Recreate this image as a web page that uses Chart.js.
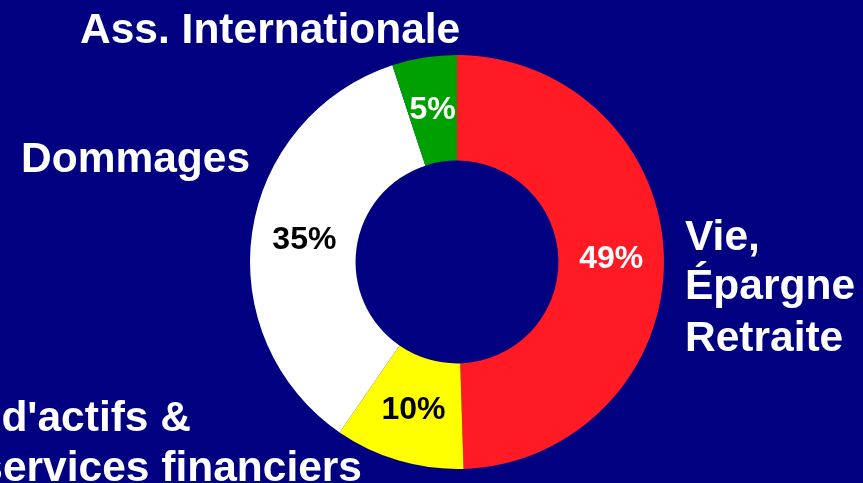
<!DOCTYPE html>
<html>
<head>
	<meta charset="UTF-8">
	<title>Répartition</title>
	<script src="https://cdn.jsdelivr.net/npm/chart.js"></script>
	<style type="text/css">
		html, body {
			margin: 0;
			padding: 0;
			background: #000080;
			overflow: hidden;
		}
		.chart-container {
			position: relative;
			width: 863px;
			height: 483px;
		}
	</style>
</head>
<body>
	<div class="chart-container">
		<canvas id="chart"></canvas>
	</div>
	<script type="text/javascript">
// data (clockwise from 12 o'clock)
var categories = ["Vie, Épargne Retraite", "Gestion d'actifs & services financiers", "Dommages", "Ass. Internationale"];
var shares = [49, 10, 35, 5];
var sliceColors = ["#FF1A24", "#FFFF00", "#FFFFFF", "#00A000"];
var pctColors = ["#FFFFFF", "#000000", "#000000", "#FFFFFF"];

// outside labels, one entry per line
var outsideLabels = [
  { text: "Ass. Internationale", x: 80, y: 43, align: "left" },
  { text: "Dommages", x: 21, y: 172, align: "left" },
  { text: "Vie,", x: 685, y: 250, align: "left" },
  { text: "Épargne", x: 685, y: 299, align: "left" },
  { text: "Retraite", x: 685, y: 351, align: "left" },
  { text: "Gestion d'actifs &", x: 191, y: 431, align: "right" },
  { text: "services financiers", x: 362, y: 481, align: "right" }
];

var labelPlugin = {
  id: 'labelPlugin',
  afterDatasetsDraw: function(chart) {
    var ctx = chart.ctx;
    var meta = chart.getDatasetMeta(0);
    ctx.save();
    // percentages inside the ring
    ctx.font = "bold 32px 'Liberation Sans', Arial, sans-serif";
    ctx.textAlign = "center";
    ctx.textBaseline = "middle";
    meta.data.forEach(function(arc, i) {
      var p = arc.getCenterPoint();
      ctx.fillStyle = pctColors[i];
      ctx.fillText(shares[i] + "%", p.x, p.y);
    });
    // category names around the ring
    ctx.font = "bold 42.5px 'Liberation Sans', Arial, sans-serif";
    ctx.textBaseline = "alphabetic";
    ctx.fillStyle = "#FFFFFF";
    outsideLabels.forEach(function(l) {
      ctx.textAlign = l.align;
      ctx.fillText(l.text, l.x, l.y);
    });
    ctx.restore();
  }
};

new Chart(document.getElementById("chart").getContext("2d"), {
  type: 'doughnut',
  data: {
    labels: categories,
    datasets: [{
      data: shares,
      backgroundColor: sliceColors,
      borderWidth: 0
    }]
  },
  options: {
    responsive: true,
    maintainAspectRatio: false,
    animation: false,
    cutout: '49%',
    layout: {
      padding: { left: 250, right: 199, top: 55, bottom: 14 }
    },
    plugins: {
      legend: { display: false },
      tooltip: { enabled: false }
    }
  },
  plugins: [labelPlugin]
});
	</script>
</body>
</html>
